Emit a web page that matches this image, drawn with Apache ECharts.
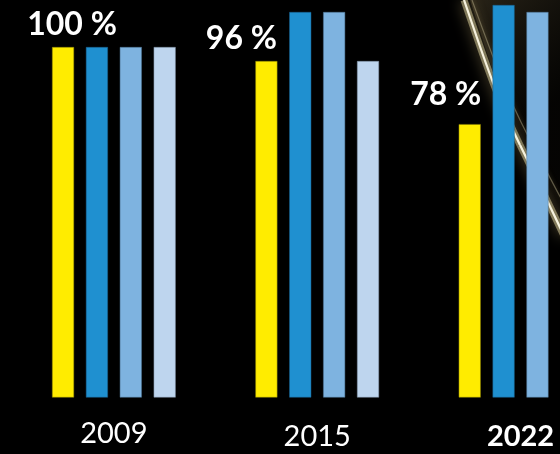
<!DOCTYPE html>
<html>
<head>
<meta charset="utf-8">
<script src="https://cdn.jsdelivr.net/npm/echarts@6/dist/echarts.min.js"></script>
<style>
  html, body { margin: 0; padding: 0; background: #000; }
  #chart { width: 560px; height: 454px; }
</style>
</head>
<body>
<div id="chart"></div>
<script>
// Survey years on the category axis
const years = ['2009', '2015', '2022'];

// Four indicator series per year (index, 2009 = 100)
const shareYellow = [100, 96, 78];
const seriesBlue = [100, 110, 112];
const seriesLightBlue = [100, 110, 110];
const seriesPaleBlue = [100, 96, 98];

// Unit appended to the callouts above the yellow bars
const calloutUnit = ' %';

const chart = echarts.init(document.getElementById('chart'), null, { renderer: 'canvas' });

const calloutOffsets = [[9, 0], [-25, 0], [-24, -7]];

// Glossy light streak in the top-right corner, drawn behind the bars
function streak(seg, style) {
  return {
    type: 'bezierCurve',
    z: 0,
    silent: true,
    shape: seg,
    style: Object.assign({ fill: null }, style)
  };
}
const streakA = { x1: 464, y1: 0, cpx1: 478, cpy1: 40, cpx2: 495, cpy2: 95, x2: 520, y2: 145 };
const streakB = { x1: 520, y1: 145, cpx1: 536, cpy1: 177, cpx2: 550, cpy2: 206, x2: 564, y2: 236 };
const streakC = { x1: 472, y1: 0, cpx1: 486, cpy1: 38, cpx2: 503, cpy2: 88, x2: 528, y2: 136 };
const streakD = { x1: 528, y1: 136, cpx1: 542, cpy1: 162, cpx2: 552, cpy2: 182, x2: 564, y2: 204 };
const glow = { stroke: 'rgba(210,198,150,0.55)', lineWidth: 7, shadowBlur: 14, shadowColor: 'rgba(180,160,105,0.9)' };
const core = { stroke: '#f6f2de', lineWidth: 2.2 };
const faint = { stroke: 'rgba(210,200,160,0.4)', lineWidth: 1.2, shadowBlur: 4, shadowColor: 'rgba(170,150,100,0.6)' };

const option = {
  backgroundColor: '#000000',
  animation: false,
  grid: {
    left: 12.2, top: 5, width: 610, height: 392.5,
    containLabel: false,
    outerBoundsMode: 'none'
  },
  xAxis: {
    type: 'category',
    data: years.map((y, i) => i === years.length - 1
      ? { value: y, textStyle: { fontWeight: 'bold', padding: [3, 0, 0, 0] } }
      : (i === 1 ? { value: y, textStyle: { padding: [3, 0, 0, 0] } } : y)),
    axisLine: { show: false },
    axisTick: { show: false },
    axisLabel: {
      color: '#ffffff',
      fontFamily: 'Lato',
      fontSize: 29,
      margin: 22
    }
  },
  yAxis: {
    type: 'value',
    min: 0,
    max: 112,
    show: false,
    splitLine: { show: false }
  },
  graphic: [
    {
      type: 'polygon',
      z: 0,
      silent: true,
      shape: { points: [[470, 0], [560, 0], [560, 240], [515, 140]] },
      style: {
        fill: new echarts.graphic.LinearGradient(0, 0, 1, 0.4, [
          { offset: 0, color: 'rgba(120,105,70,0.34)' },
          { offset: 1, color: 'rgba(60,52,35,0.08)' }
        ])
      }
    },
    streak(streakA, glow),
    streak(streakB, glow),
    streak(streakA, core),
    streak(streakB, core),
    streak(streakC, faint),
    streak(streakD, faint)
  ],
  series: [
    {
      type: 'bar',
      z: 2,
      barWidth: 22,
      barGap: '54%',
      itemStyle: { color: '#FFEC00', borderColor: '#8a8200', borderWidth: 0.5 },
      data: shareYellow.map((v, i) => ({
        value: v,
        label: {
          show: true,
          position: 'top',
          distance: 6,
          offset: calloutOffsets[i],
          formatter: p => p.value + calloutUnit,
          color: '#ffffff',
          fontFamily: 'Lato',
          fontWeight: 'bold',
          fontSize: 32
        }
      }))
    },
    {
      type: 'bar',
      z: 2,
      barWidth: 22,
      itemStyle: { color: '#1F90D0', borderColor: '#1a5f8a', borderWidth: 0.5 },
      data: seriesBlue
    },
    {
      type: 'bar',
      z: 2,
      barWidth: 22,
      itemStyle: { color: '#7EB3E0', borderColor: '#4f7494', borderWidth: 0.5 },
      data: seriesLightBlue
    },
    {
      type: 'bar',
      z: 2,
      barWidth: 22,
      itemStyle: { color: '#BED5EE', borderColor: '#7d8da0', borderWidth: 0.5 },
      data: seriesPaleBlue
    }
  ]
};

chart.setOption(option);
</script>
</body>
</html>
